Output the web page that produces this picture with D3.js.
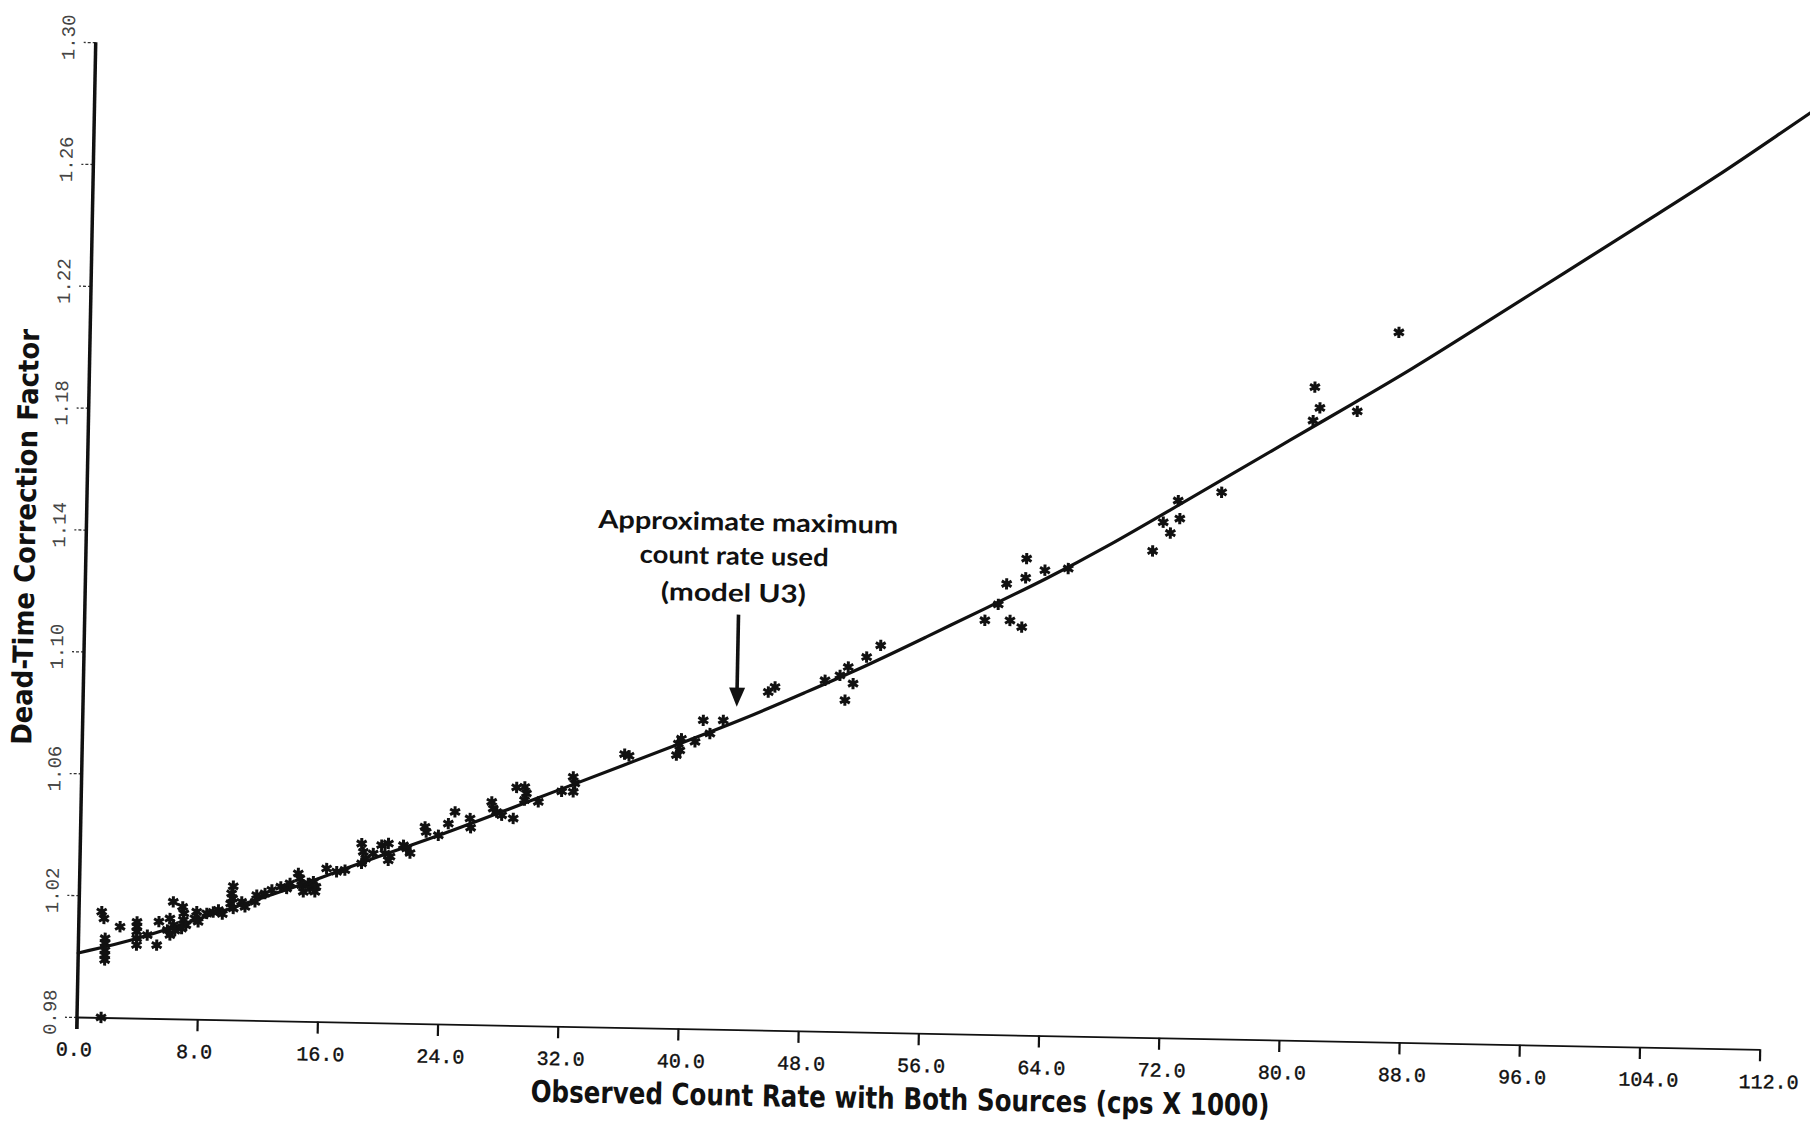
<!DOCTYPE html>
<html>
<head>
<meta charset="utf-8">
<script src="https://cdn.jsdelivr.net/npm/d3@7"></script>
<style>
  html, body { margin: 0; padding: 0; background: #fff; }
  svg { display: block; }
</style>
</head>
<body>
<svg id="chart"></svg>
<script>
// axis ticks
const xTicks = [0, 8, 16, 24, 32, 40, 48, 56, 64, 72, 80, 88, 96, 104, 112];
const yTicks = [0.98, 1.02, 1.06, 1.10, 1.14, 1.18, 1.22, 1.26, 1.30];

// fitted dead-time curve
const fitRate   = [0, 4, 8, 12, 16, 20, 24, 28, 32, 36, 40, 44, 48, 52, 56, 60, 64, 68, 72, 76, 80, 84, 88, 92, 96, 100, 104, 108, 112, 116];
const fitFactor = [1.001, 1.006, 1.013, 1.020, 1.027, 1.035, 1.042, 1.050, 1.058, 1.066, 1.074, 1.082, 1.091, 1.100, 1.110, 1.120, 1.130, 1.141, 1.153, 1.165, 1.177, 1.189, 1.201, 1.214, 1.227, 1.240, 1.253, 1.266, 1.280, 1.294];

// measured points (kcps, correction factor)
const obsRate = [
  1.51, 1.67, 1.77, 1.77, 1.77, 1.77, 1.77, 1.6, 2.75,
  3.87, 3.87, 3.87, 3.87, 3.87, 4.57, 5.21, 5.33,
  6.26, 6.06, 6.29, 5.90, 6.40, 6.08, 6.89, 6.98, 6.95, 7.13, 6.85,
  7.83, 7.72, 7.94, 8.50, 8.93, 9.27, 9.54,
  10.23, 10.13, 10.20, 10.08, 10.26, 10.81, 11.04, 11.80, 11.70, 12.35, 12.80,
  13.39, 13.79, 14.00, 14.54, 14.65, 14.78, 14.90, 15.21, 15.33, 15.55, 15.73, 15.67,
  16.42, 17.09, 17.64,
  18.72, 18.84, 19.00, 18.74, 19.5, 20.05, 20.50, 20.28, 20.62, 20.51, 21.5, 21.72, 21.95,
  22.91, 23.00, 23.81, 24.46, 24.89, 25.9, 25.95,
  27.32, 27.43, 27.66, 28.00, 28.77, 28.96, 29.5, 29.62, 29.5, 30.42,
  31.96, 32.71, 32.83, 32.73, 36.1, 36.4,
  39.66, 39.77, 39.55, 39.86, 40.77, 41.29, 41.75, 42.62,
  45.58, 46.02, 49.34, 50.33, 50.87, 51.21, 50.69, 52.08, 53.0,
  59.9, 60.77, 61.3, 61.57, 62.36, 62.6, 62.56, 63.83, 65.38,
  70.97, 71.64, 72.13, 72.61, 72.74, 75.49,
  81.56, 81.92, 81.48, 84.41, 87.08
];
const obsFactor = [
  1.0147, 1.0125, 1.0060, 1.0044, 1.0021, 1.0005, 0.9989, 0.980, 1.0099,
  1.0116, 1.0100, 1.0084, 1.0062, 1.0040, 1.0073, 1.0041, 1.0118,
  1.0184, 1.0129, 1.0108, 1.0091, 1.0090, 1.0075, 1.0168, 1.0147, 1.0125, 1.0108, 1.0097,
  1.0153, 1.0131, 1.0120, 1.0148, 1.0153, 1.0160, 1.0147,
  1.0239, 1.0215, 1.0199, 1.0182, 1.0166, 1.0188, 1.0172, 1.0211, 1.0189, 1.0217, 1.0229,
  1.0240, 1.0235, 1.0252, 1.0285, 1.0269, 1.0247, 1.0225, 1.0253, 1.0236, 1.0259, 1.0242, 1.0226,
  1.0303, 1.0293, 1.0299,
  1.0387, 1.0360, 1.0338, 1.0322, 1.0355, 1.0383, 1.0389, 1.0356, 1.0346, 1.0334, 1.0384, 1.0374, 1.0359,
  1.0446, 1.0429, 1.0419, 1.0458, 1.0497, 1.0476, 1.0446,
  1.0532, 1.0510, 1.0499, 1.0489, 1.0479, 1.0581, 1.0583, 1.0562, 1.0540, 1.0535,
  1.0571, 1.0619, 1.0598, 1.0570, 1.0697, 1.0692,
  1.0735, 1.0713, 1.0697, 1.0751, 1.0742, 1.0813, 1.0770, 1.0814,
  1.0910, 1.0927, 1.0952, 1.0969, 1.0997, 1.0943, 1.0888, 1.1031, 1.1070,
  1.1159, 1.1212, 1.1280, 1.1160, 1.1139, 1.1364, 1.1301, 1.1327, 1.1334,
  1.1397, 1.1492, 1.1457, 1.1564, 1.1505, 1.1594,
  1.1945, 1.1877, 1.1835, 1.1868, 1.2130
];

// titles and annotation
const xTitle = "Observed Count Rate with Both Sources (cps X 1000)";
const yTitle = "Dead-Time Correction Factor";
const noteLines = ["Approximate maximum", "count rate used", "(model U3)"];
const noteRate = 43.5;     // where the arrow points
const noteTip = 1.086;     // arrow tip height

const width = 1810, height = 1123;
const origin = { x: 77, y: 1017 };  // where the axes meet on the page
const tilt = 1.1;                    // the scanned page sits a little crooked
const plotW = 1683, plotH = 975;

const svg = d3.select("#chart")
    .attr("width", width)
    .attr("height", height);

svg.append("rect")
    .attr("width", width)
    .attr("height", height)
    .attr("fill", "#fff");

const g = svg.append("g")
    .attr("transform", `translate(${origin.x},${origin.y}) rotate(${tilt}) translate(0,${-plotH})`);

const x = d3.scaleLinear().domain([0, 112]).range([0, plotW]);
const y = d3.scaleLinear().domain([0.98, 1.30]).range([plotH, 0]);

const monoFont = "'Liberation Mono', 'DejaVu Sans Mono', monospace";
const titleFont = "'Liberation Sans Narrow', 'DejaVu Sans Condensed', 'Liberation Sans', sans-serif";

// x axis
const xAxis = g.append("g")
    .attr("transform", `translate(0,${plotH})`)
    .call(d3.axisBottom(x)
        .tickValues(xTicks)
        .tickSize(12)
        .tickSizeOuter(0)
        .tickFormat(d3.format(".1f")));

xAxis.select(".domain").attr("stroke", "#111").attr("stroke-width", 1.8);
xAxis.selectAll(".tick line").attr("stroke", "#111").attr("stroke-width", 2.2);
xAxis.selectAll(".tick text")
    .attr("text-anchor", "start")
    .attr("x", -21)
    .attr("y", 39)
    .attr("dy", null)
    .attr("font-family", monoFont)
    .attr("font-size", 20)
    .attr("stroke", "#111")
    .attr("stroke-width", 0.4)
    .attr("fill", "#111");

// y axis (labels turned on their side, like the plotter did)
const yAxis = g.append("g")
    .call(d3.axisLeft(y)
        .tickValues(yTicks)
        .tickSize(12)
        .tickSizeOuter(0)
        .tickFormat(d3.format(".2f")));

yAxis.select(".domain").remove();
yAxis.selectAll(".tick line")
    .attr("stroke", "#333")
    .attr("stroke-width", 1.3)
    .attr("stroke-dasharray", "3,2");
yAxis.selectAll(".tick text")
    .attr("x", 0)
    .attr("dy", null)
    .attr("text-anchor", "start")
    .attr("transform", "translate(-21,18) rotate(-90)")
    .attr("font-family", monoFont)
    .attr("font-size", 19)
    .attr("fill", "#444");

g.append("line")
    .attr("x1", 0).attr("x2", 0)
    .attr("y1", y(1.30))
    .attr("y2", y(0.98) + 12)
    .attr("stroke", "#111")
    .attr("stroke-width", 3.5);

// fitted curve
const fit = fitRate.map((r, i) => ({ rate: r, factor: fitFactor[i] }));
const line = d3.line()
    .x(d => x(d.rate))
    .y(d => y(d.factor))
    .curve(d3.curveBasis);

g.append("path")
    .datum(fit)
    .attr("d", line)
    .attr("fill", "none")
    .attr("stroke", "#111")
    .attr("stroke-width", 3.2)
    .attr("stroke-linecap", "round");

// measured points as asterisks
const obs = obsRate.map((r, i) => ({ rate: r, factor: obsFactor[i] }));
const starType = d3.symbolAsterisk || d3.symbolCross;
const star = d3.symbol().type(starType).size(90);

g.append("g")
    .selectAll("path")
    .data(obs)
    .enter().append("path")
    .attr("transform", d => `translate(${x(d.rate)},${y(d.factor)})`)
    .attr("d", star)
    .attr("fill", d3.symbolAsterisk ? "none" : "#111")
    .attr("stroke", "#111")
    .attr("stroke-width", 3);

// x title: set word by word so each piece follows the tilted baseline
const xTitleLeft = 455, xTitleWidth = 739, xTitleBase = plotH + 76;
const titleG = g.append("g")
    .attr("font-family", titleFont)
    .attr("font-weight", "bold")
    .attr("font-size", 30)
    .attr("fill", "#111");

const probe = titleG.append("text");
const measure = s => { probe.text(s); return probe.node().getComputedTextLength(); };
const fullW = measure(xTitle);
const k = xTitleWidth / fullW;
const words = xTitle.split(" ");
const wordPos = words.map((w, i) => {
    const len = measure(w);
    const end = measure(words.slice(0, i + 1).join(" "));
    return { word: w, start: end - len, len: len };
});
probe.remove();

titleG.selectAll("text")
    .data(wordPos)
    .enter().append("text")
    .attr("x", d => xTitleLeft + d.start * k)
    .attr("y", xTitleBase)
    .attr("textLength", d => d.len * k)
    .attr("lengthAdjust", "spacingAndGlyphs")
    .text(d => d.word);

g.append("text")
    .attr("transform", "translate(-51,496) rotate(-90)")
    .attr("text-anchor", "middle")
    .attr("font-family", titleFont)
    .attr("font-weight", "bold")
    .attr("font-size", 28)
    .attr("textLength", 416)
    .attr("lengthAdjust", "spacingAndGlyphs")
    .attr("fill", "#111")
    .text(yTitle);

// annotation with arrow
const ax = x(noteRate);
const tipY = y(noteTip);
const topY = tipY - 92;

g.append("line")
    .attr("x1", ax).attr("x2", ax)
    .attr("y1", topY).attr("y2", tipY - 14)
    .attr("stroke", "#111")
    .attr("stroke-width", 3.6);

g.append("path")
    .attr("d", `M${ax - 8},${tipY - 19}L${ax + 8},${tipY - 19}L${ax},${tipY}Z`)
    .attr("fill", "#111");

const noteX = [-142, -100, -78];
const noteY = [-84, -50, -13];
const noteW = [300, 189, 145];

g.append("g")
    .selectAll("text")
    .data(noteLines)
    .enter().append("text")
    .attr("x", (d, i) => ax + noteX[i])
    .attr("y", (d, i) => topY + noteY[i])
    .attr("font-family", "Lato, 'Open Sans', sans-serif")
    .attr("font-weight", "bold")
    .attr("font-size", 25)
    .attr("textLength", (d, i) => noteW[i])
    .attr("lengthAdjust", "spacingAndGlyphs")
    .attr("fill", "#111")
    .text(d => d);
</script>
</body>
</html>
